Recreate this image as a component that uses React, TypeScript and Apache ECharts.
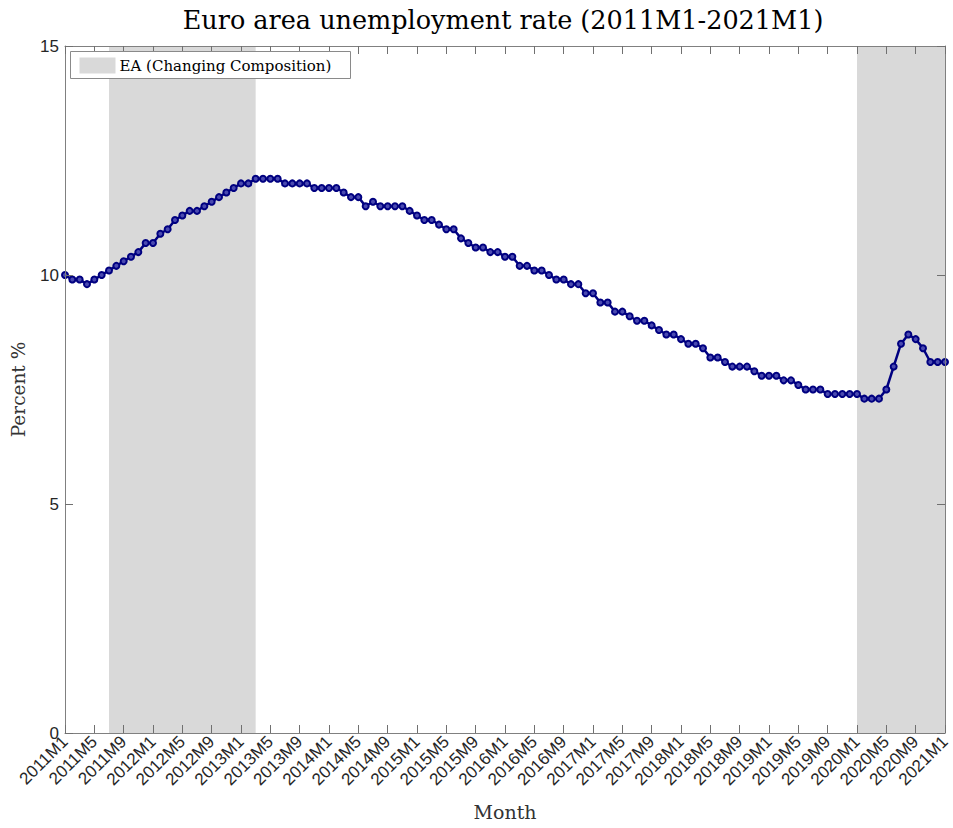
import { useEffect, useRef } from 'react';
import * as echarts from 'echarts';

const years = [2011, 2012, 2013, 2014, 2015, 2016, 2017, 2018, 2019, 2020, 2021];
const months: string[] = [];
years.forEach((y) => {
  const last = y === 2021 ? 1 : 12;
  for (let m = 1; m <= last; m++) months.push(`${y}M${m}`);
});

const rate2011 = [10.0, 9.9, 9.9, 9.8, 9.9, 10.0, 10.1, 10.2, 10.3, 10.4, 10.5, 10.7];
const rate2012 = [10.7, 10.9, 11.0, 11.2, 11.3, 11.4, 11.4, 11.5, 11.6, 11.7, 11.8, 11.9];
const rate2013 = [12.0, 12.0, 12.1, 12.1, 12.1, 12.1, 12.0, 12.0, 12.0, 12.0, 11.9, 11.9];
const rate2014 = [11.9, 11.9, 11.8, 11.7, 11.7, 11.5, 11.6, 11.5, 11.5, 11.5, 11.5, 11.4];
const rate2015 = [11.3, 11.2, 11.2, 11.1, 11.0, 11.0, 10.8, 10.7, 10.6, 10.6, 10.5, 10.5];
const rate2016 = [10.4, 10.4, 10.2, 10.2, 10.1, 10.1, 10.0, 9.9, 9.9, 9.8, 9.8, 9.6];
const rate2017 = [9.6, 9.4, 9.4, 9.2, 9.2, 9.1, 9.0, 9.0, 8.9, 8.8, 8.7, 8.7];
const rate2018 = [8.6, 8.5, 8.5, 8.4, 8.2, 8.2, 8.1, 8.0, 8.0, 8.0, 7.9, 7.8];
const rate2019 = [7.8, 7.8, 7.7, 7.7, 7.6, 7.5, 7.5, 7.5, 7.4, 7.4, 7.4, 7.4];
const rate2020 = [7.4, 7.3, 7.3, 7.3, 7.5, 8.0, 8.5, 8.7, 8.6, 8.4, 8.1, 8.1];
const rate2021 = [8.1];

const unemployment = [
  ...rate2011, ...rate2012, ...rate2013, ...rate2014, ...rate2015, ...rate2016,
  ...rate2017, ...rate2018, ...rate2019, ...rate2020, ...rate2021,
];

const shadedPeriods: [string, string][] = [
  ['2011M7', '2013M3'],
  ['2020M1', '2021M1'],
];

const yMin = 0;
const yMax = 15;
const yStep = 5;

const titleText = 'Euro area unemployment rate (2011M1-2021M1)';
const legendText = 'EA (Changing Composition)';

const serif = "'DejaVu Serif', 'Liberation Serif', serif";
const sans = "'Liberation Sans', Arial, sans-serif";
const axisGray = '#808080';
const tickColor = '#707070';

export default function App() {
  const ref = useRef<HTMLDivElement>(null);
  useEffect(() => {
    if (!ref.current) return;
    const chart = echarts.init(ref.current, null, { renderer: 'svg' });
    const xCommon = {
      type: 'category' as const,
      data: months,
      boundaryGap: false,
      z: 10,
      axisLine: { show: true, onZero: false, lineStyle: { color: axisGray, width: 1 } },
      axisTick: { show: true, inside: true, interval: 3, length: 8, lineStyle: { color: tickColor, width: 1 } },
      splitLine: { show: false },
    };
    const yCommon = {
      type: 'value' as const,
      min: yMin,
      max: yMax,
      interval: yStep,
      z: 10,
      axisLine: { show: true, onZero: false, lineStyle: { color: axisGray, width: 1 } },
      axisTick: { show: true, inside: true, length: 8, lineStyle: { color: tickColor, width: 1 } },
      splitLine: { show: false },
    };
    chart.setOption({
      animation: false,
      backgroundColor: '#ffffff',
      title: {
        text: titleText,
        left: 498,
        textAlign: 'center',
        top: 2,
        textStyle: { fontFamily: serif, fontSize: 25.5, fontWeight: 'normal', color: '#000' },
      },
      grid: { left: 65, right: 8, top: 46, bottom: 95, containLabel: false, outerBoundsMode: 'none' },
      xAxis: [
        {
          ...xCommon,
          position: 'bottom',
          name: 'Month',
          nameLocation: 'middle',
          nameGap: 69,
          nameTextStyle: { fontFamily: serif, fontSize: 19, color: '#333' },
          axisLabel: {
            interval: 3,
            rotate: 45,
            fontFamily: sans,
            fontSize: 17,
            color: '#262626',
            margin: 6,
          },
        },
        {
          ...xCommon,
          position: 'top',
          axisLabel: { show: false },
        },
      ],
      yAxis: [
        {
          ...yCommon,
          position: 'left',
          name: 'Percent %',
          nameLocation: 'middle',
          nameGap: 37,
          nameRotate: 90,
          nameTextStyle: { fontFamily: serif, fontSize: 18.5, color: '#333' },
          axisLabel: { fontFamily: sans, fontSize: 17, color: '#262626', margin: 6 },
        },
        {
          ...yCommon,
          position: 'right',
          axisLabel: { show: false },
        },
      ],
      series: [
        {
          type: 'line',
          data: unemployment,
          xAxisIndex: 0,
          yAxisIndex: 0,
          symbol: 'circle',
          symbolSize: 6,
          showAllSymbol: true,
          lineStyle: { color: '#000080', width: 2.5 },
          itemStyle: { color: '#4a4ab0', borderColor: '#000080', borderWidth: 2 },
          z: 3,
          markArea: {
            silent: true,
            itemStyle: { color: '#d9d9d9', opacity: 1 },
            data: shadedPeriods.map(([a, b]) => [{ xAxis: a }, { xAxis: b }]),
          },
        },
      ],
      graphic: [
        {
          type: 'group',
          left: 70,
          top: 51,
          z: 100,
          children: [
            {
              type: 'rect',
              z: 100,
              shape: { x: 0, y: 0, width: 280, height: 27 },
              style: { fill: '#ffffff', stroke: '#8a8a8a', lineWidth: 1 },
            },
            {
              type: 'rect',
              z: 101,
              shape: { x: 9, y: 6, width: 36, height: 16 },
              style: { fill: '#d9d9d9' },
            },
            {
              type: 'text',
              z: 101,
              x: 49,
              y: 14,
              style: {
                text: legendText,
                fontFamily: serif,
                fontSize: 15,
                fill: '#000',
                verticalAlign: 'middle',
              },
            },
          ],
        },
      ],
    });
    return () => chart.dispose();
  }, []);
  return (
    <div
      ref={ref}
      style={{ position: 'fixed', left: 0, top: 0, width: 953, height: 828, background: '#fff' }}
    />
  );
}
